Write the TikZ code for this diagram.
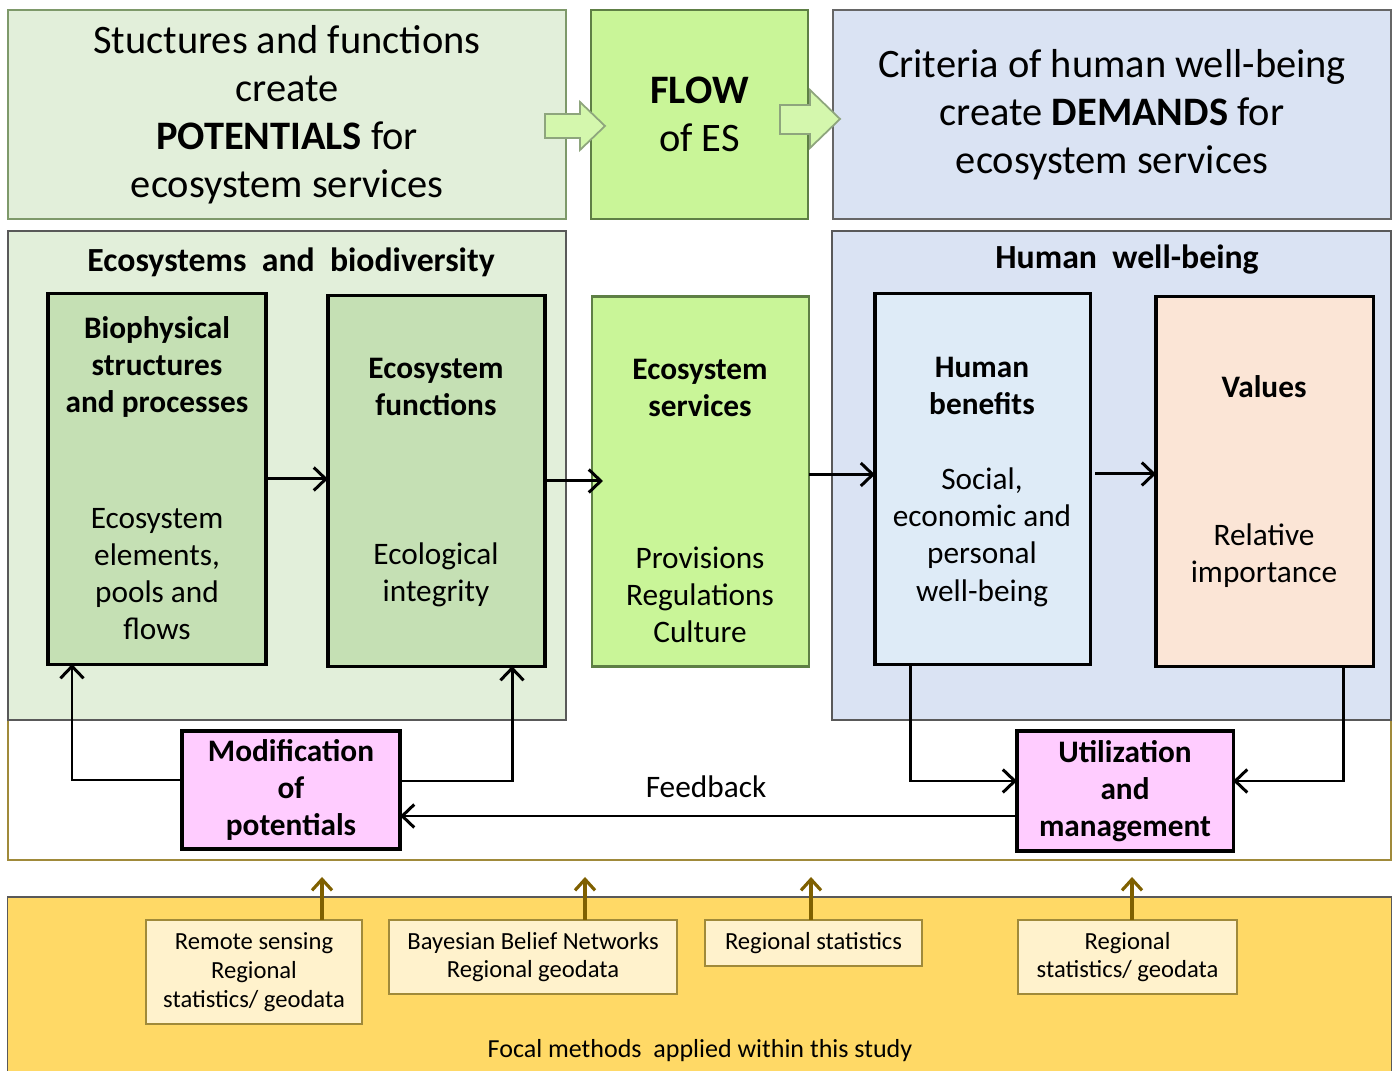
\documentclass[tikz,border=0pt]{standalone}
\usepackage{fontspec}
\setmainfont{Carlito}
\usetikzlibrary{calc,arrows.meta}

\definecolor{paleGreen}{HTML}{E2EFDA}
\definecolor{midGreen}{HTML}{C5E0B4}
\definecolor{limeGreen}{HTML}{C9F598}
\definecolor{edgeGreen}{HTML}{5E7F45}
\definecolor{paleBlue}{HTML}{DAE3F3}
\definecolor{lightBlue}{HTML}{DEEBF7}
\definecolor{peach}{HTML}{FBE5D6}
\definecolor{modPink}{HTML}{FFCCFF}
\definecolor{gold}{HTML}{FFD966}
\definecolor{cream}{HTML}{FFF2CC}
\definecolor{oliveLine}{HTML}{A08A3A}
\definecolor{oliveArrow}{HTML}{7F6000}

\newcommand{\bigfont}{\fontsize{11.5}{13.7}\selectfont}
\newcommand{\boxfont}{\fontsize{8.9}{10.6}\selectfont}
\newcommand{\smallfont}{\fontsize{7}{8.2}\selectfont}

\begin{document}
\begin{tikzpicture}[x=0.01cm,y=-0.01cm,
    panel/.style={draw=gray!70!black, line width=0.5pt, inner sep=0pt, outer sep=0pt},
    box/.style={draw=black, line width=0.9pt, inner sep=0pt, outer sep=0pt},
    method/.style={draw=oliveLine, line width=0.5pt, fill=cream, inner sep=0pt, outer sep=0pt,
      align=center, font=\smallfont},
    flowline/.style={line width=0.85pt, -{Straight Barb[length=1.2mm,width=2.3mm]}},
    dataline/.style={draw=oliveArrow, line width=0.9pt, -{Straight Barb[length=1.1mm,width=2mm]}},
    blockarrow/.style={fill=limeGreen!80!white, draw=edgeGreen!70!white, line width=0.5pt}]
  \useasboundingbox (0,0) rectangle (1398,1071);

  % top row
  \node[panel, fill=paleGreen, draw=edgeGreen!80, minimum width=5.58cm, minimum height=2.09cm,
    align=center, font=\bigfont] (potentials) at (287,114.5)
    {Stuctures and functions\\create\\\textbf{POTENTIALS} for\\ecosystem services};
  \node[panel, fill=limeGreen, draw=edgeGreen, minimum width=2.17cm, minimum height=2.09cm,
    align=center, font=\bigfont] (flow) at (699.5,114.5) {\textbf{FLOW}\\of ES};
  \node[panel, fill=paleBlue, draw=gray!80!black, minimum width=5.58cm, minimum height=2.09cm,
    align=center, font=\bigfont] (demands) at (1112,114.5)
    {Criteria of human well-being\\create \textbf{DEMANDS} for\\ecosystem services};
  \draw[blockarrow] (545,114) -- (580,114) -- (580,102) -- (605,126) -- (580,150) -- (580,138) -- (545,138) -- cycle;
  \draw[blockarrow] (780,105) -- (810,105) -- (810,90) -- (840,119) -- (810,148) -- (810,134) -- (780,134) -- cycle;

  % frame and panels
  \draw[oliveLine, line width=0.5pt] (8,720) -- (8,860) -- (1391,860) -- (1391,720);
  \node[panel, fill=paleGreen, minimum width=5.58cm, minimum height=4.89cm] (ecopanel) at (287,475.5) {};
  \node[panel, fill=paleBlue, minimum width=5.59cm, minimum height=4.89cm] (humanpanel) at (1111.5,475.5) {};
  \node[font=\fontsize{9.6}{11}\selectfont\bfseries] (ecotitle) at (291,262) {Ecosystems\ \ and\ \ biodiversity};
  \node[font=\fontsize{9.6}{11}\selectfont\bfseries] (humantitle) at (1127,260) {Human\ \ well-being};

  % boxes
  \node[box, fill=midGreen, minimum width=2.18cm, minimum height=3.70cm] (bio) at (157,479) {};
  \node[box, fill=midGreen, minimum width=2.17cm, minimum height=3.70cm] (func) at (436.5,481) {};
  \node[panel, fill=limeGreen, draw=edgeGreen, line width=0.8pt, minimum width=2.17cm, minimum height=3.69cm] (serv) at (700.5,481.5) {};
  \node[box, fill=lightBlue, minimum width=2.15cm, minimum height=3.70cm] (benef) at (982.5,479) {};
  \node[box, fill=peach, minimum width=2.17cm, minimum height=3.69cm] (values) at (1264.5,481.5) {};

  \node[align=center, font=\boxfont\bfseries] (biohead) at (157,367) {Biophysical\\structures\\and processes};
  \node[align=center, font=\boxfont] (biotext) at (157,574) {Ecosystem\\elements,\\pools and\\flows};
  \node[align=center, font=\boxfont\bfseries] (funchead) at (436,387) {Ecosystem\\functions};
  \node[align=center, font=\boxfont] (functext) at (436,575) {Ecological\\integrity};
  \node[align=center, font=\boxfont\bfseries] (servhead) at (700,388) {Ecosystem\\services};
  \node[align=center, font=\boxfont] (servtext) at (700,595) {Provisions\\Regulations\\Culture};
  \node[align=center, font=\boxfont\bfseries] (benefhead) at (982,386) {Human\\benefits};
  \node[align=center, font=\boxfont] (beneftext) at (982,537) {Social,\\economic and\\personal\\well-being};
  \node[align=center, font=\boxfont\bfseries] (valueshead) at (1264,387) {Values};
  \node[align=center, font=\boxfont] (valuestext) at (1264,556) {Relative\\importance};

  \node[box, fill=modPink, minimum width=2.18cm, minimum height=1.18cm, align=center,
    font=\boxfont\bfseries] (modif) at (291,790) {Modification\\of\\potentials};
  \node[box, fill=modPink, minimum width=2.16cm, minimum height=1.20cm, align=center,
    font=\boxfont\bfseries] (util) at (1125,791) {Utilization\\and\\management};

  % connectors
  \draw[flowline] (bio.east) -- (bio.east -| func.west);
  \draw[flowline] (func.east) -- ($(func.east -| serv.west)+(11,0)$);
  \draw[flowline] ($(serv.east)+(0,-7)$) coordinate (s1) -- (s1 -| benef.west);
  \draw[flowline] ($(benef.east)+(5,-5)$) coordinate (b1) -- (b1 -| values.west);
  \draw[flowline] ($(modif.west)+(0,-10)$) -| ($(bio.south)+(-85,0)$);
  \draw[flowline] ($(modif.east)+(0,-9)$) -| ($(func.south)+(75.5,0)$);
  \draw[flowline] ($(benef.south)+(-72.5,0)$) |- ($(util.west)+(0,-10)$);
  \draw[flowline] ($(values.south)+(78.5,0)$) |- ($(util.east)+(0,-10)$);
  \draw[flowline] ($(util.west)+(0,25)$) coordinate (u1) -- (u1 -| modif.east);
  \node[font=\boxfont] (feedback) at (706,787) {Feedback};

  % methods
  \node[panel, fill=gold, minimum width=13.83cm, minimum height=1.90cm] (methods) at (699.5,992) {};
  \node[font=\fontsize{7.4}{9}\selectfont] (methodstitle) at (700,1051) {Focal methods\ \ applied within this study};
  \node[method, minimum width=2.16cm, minimum height=1.04cm] (rs) at (254,972)
    {Remote sensing\\Regional\\statistics/ geodata};
  \node[method, minimum width=2.88cm, minimum height=0.74cm] (bbn) at (533,957)
    {Bayesian Belief Networks\\Regional geodata};
  \node[method, minimum width=2.17cm, minimum height=0.46cm] (rstat) at (813.5,943)
    {Regional statistics};
  \node[method, minimum width=2.19cm, minimum height=0.74cm] (rgeo) at (1127.5,957)
    {Regional\\statistics/ geodata};
  \draw[dataline] ($(rs.north)+(68,0)$) -- ++(0,-43);
  \draw[dataline] ($(bbn.north)+(52,0)$) -- ++(0,-43);
  \draw[dataline] ($(rstat.north)+(-2.5,0)$) -- ++(0,-43);
  \draw[dataline] ($(rgeo.north)+(4.5,0)$) -- ++(0,-43);
\end{tikzpicture}
\end{document}
